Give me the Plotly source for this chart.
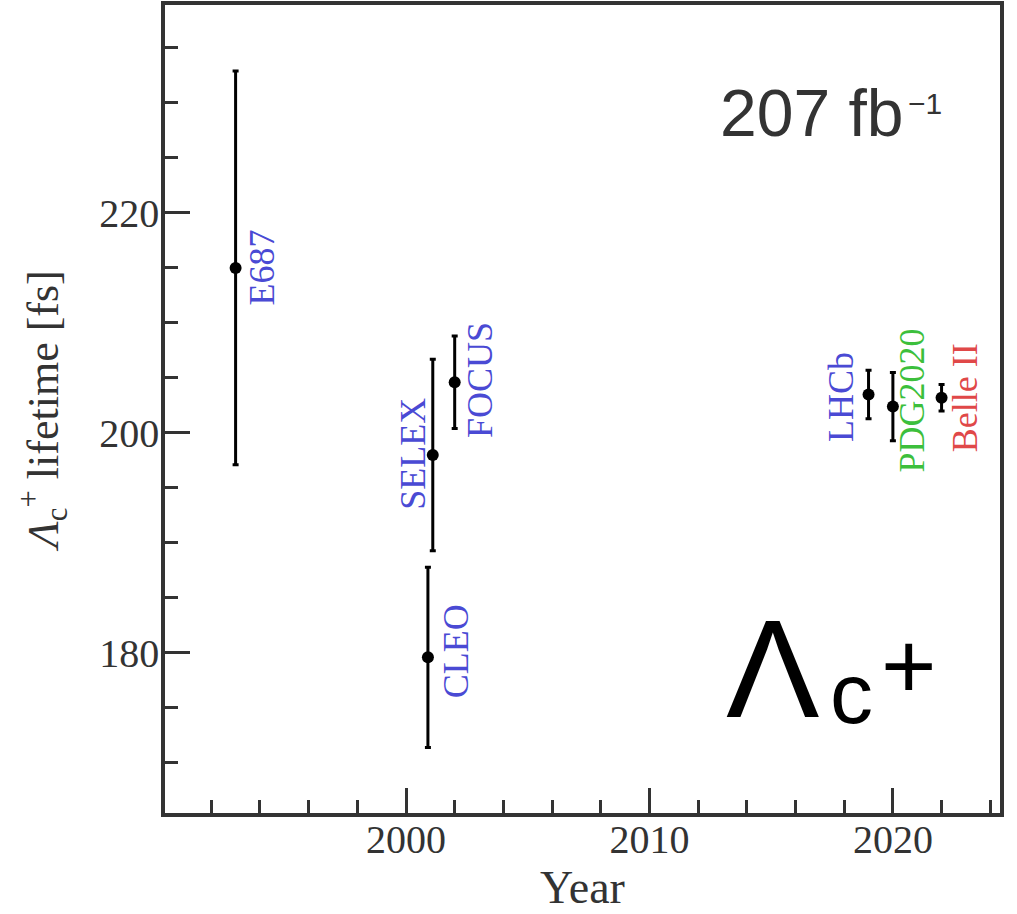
import plotly.graph_objects as go

# Measurements of the Lambda_c+ lifetime
experiments = ["E687", "SELEX", "FOCUS", "CLEO", "LHCb", "PDG2020", "Belle II"]
years = [1993.0, 2001.1, 2002.0, 2000.9, 2019.0, 2020.0, 2022.0]
lifetimes = [215.0, 198.0, 204.6, 179.6, 203.5, 202.4, 203.2]
errors = [17.9, 8.7, 4.2, 8.2, 2.2, 3.1, 1.2]

# Label styling: colour and pixel offset of each rotated label from its point
label_colors = ["#4a4ad4", "#4a4ad4", "#4a4ad4", "#4a4ad4", "#4a4ad4", "#3cbf3c", "#e04848"]
label_dx = [26, -20, 26, 28, -27, 19, 23]
label_dy = [0, 1, 2, 6, -3, 6, 0]

SERIF = "Liberation Serif"
SANS = "Liberation Sans"
INK = "#333333"

W, H = 1017, 914
ML, MR, MT, MB = 165, 17, 5, 101
PW, PH = W - ML - MR, H - MT - MB


def px(x):
    return (x - ML) / PW


def py(y):
    return (H - MB - y) / PH


fig = go.Figure()
fig.add_trace(go.Scatter(
    x=years, y=lifetimes, mode="markers",
    marker=dict(color="black", size=12),
    error_y=dict(type="data", array=errors, visible=True,
                 color="black", thickness=3, width=3),
    showlegend=False,
))

annotations = []
for name, xv, yv, col, dx, dy in zip(experiments, years, lifetimes,
                                     label_colors, label_dx, label_dy):
    annotations.append(dict(
        x=xv, y=yv, xref="x", yref="y", text=name, showarrow=False,
        textangle=-90, xshift=dx, yshift=dy,
        font=dict(family=SERIF, size=36, color=col),
    ))

# Luminosity tag
annotations += [
    dict(x=px(718), y=py(113), xref="paper", yref="paper", text="207 fb",
         showarrow=False, xanchor="left", yanchor="middle",
         font=dict(family=SANS, size=66, color=INK)),
    dict(x=px(906), y=py(103), xref="paper", yref="paper", text="\u22121",
         showarrow=False, xanchor="left", yanchor="middle",
         font=dict(family=SANS, size=30, color=INK)),
]

# Particle symbol
annotations += [
    dict(x=px(724), y=py(668), xref="paper", yref="paper", text="\u039b",
         showarrow=False, xanchor="left", yanchor="middle",
         font=dict(family=SANS, size=140, color="black")),
    dict(x=px(828), y=py(693), xref="paper", yref="paper", text="c",
         showarrow=False, xanchor="left", yanchor="middle",
         font=dict(family=SANS, size=86, color="black")),
    dict(x=px(879), y=py(665), xref="paper", yref="paper", text="+",
         showarrow=False, xanchor="left", yanchor="middle",
         font=dict(family=SANS, size=95, color="black")),
]

axis_common = dict(
    showgrid=False, zeroline=False, showline=True, mirror=True,
    linecolor=INK, linewidth=3.5, ticks="inside", ticklen=25, tickwidth=3,
    tickcolor=INK, tickfont=dict(family=SERIF, size=40, color=INK),
)

fig.update_layout(
    width=W, height=H,
    margin=dict(l=ML, r=MR, t=MT, b=MB, autoexpand=False),
    paper_bgcolor="white", plot_bgcolor="white",
    xaxis=dict(
        range=[1990.1, 2024.4], tickmode="linear", tick0=2000, dtick=10,
        ticklabelstandoff=-12,
        minor=dict(dtick=2, ticks="inside", ticklen=13, tickwidth=2.5,
                   tickcolor=INK),
        title=dict(text="Year", standoff=4,
                   font=dict(family=SERIF, size=46, color=INK)),
        **axis_common,
    ),
    yaxis=dict(
        range=[165.45, 238.9], tickmode="linear", tick0=180, dtick=20,
        ticklabelstandoff=-6,
        minor=dict(dtick=5, ticks="inside", ticklen=13, tickwidth=2.5,
                   tickcolor=INK),
        title=dict(text="<i>\u039b</i><sub>c</sub><sup>+</sup> lifetime [fs]",
                   standoff=28,
                   font=dict(family=SERIF, size=44, color=INK)),
        **axis_common,
    ),
    annotations=annotations,
)

fig.write_html("out.html")
